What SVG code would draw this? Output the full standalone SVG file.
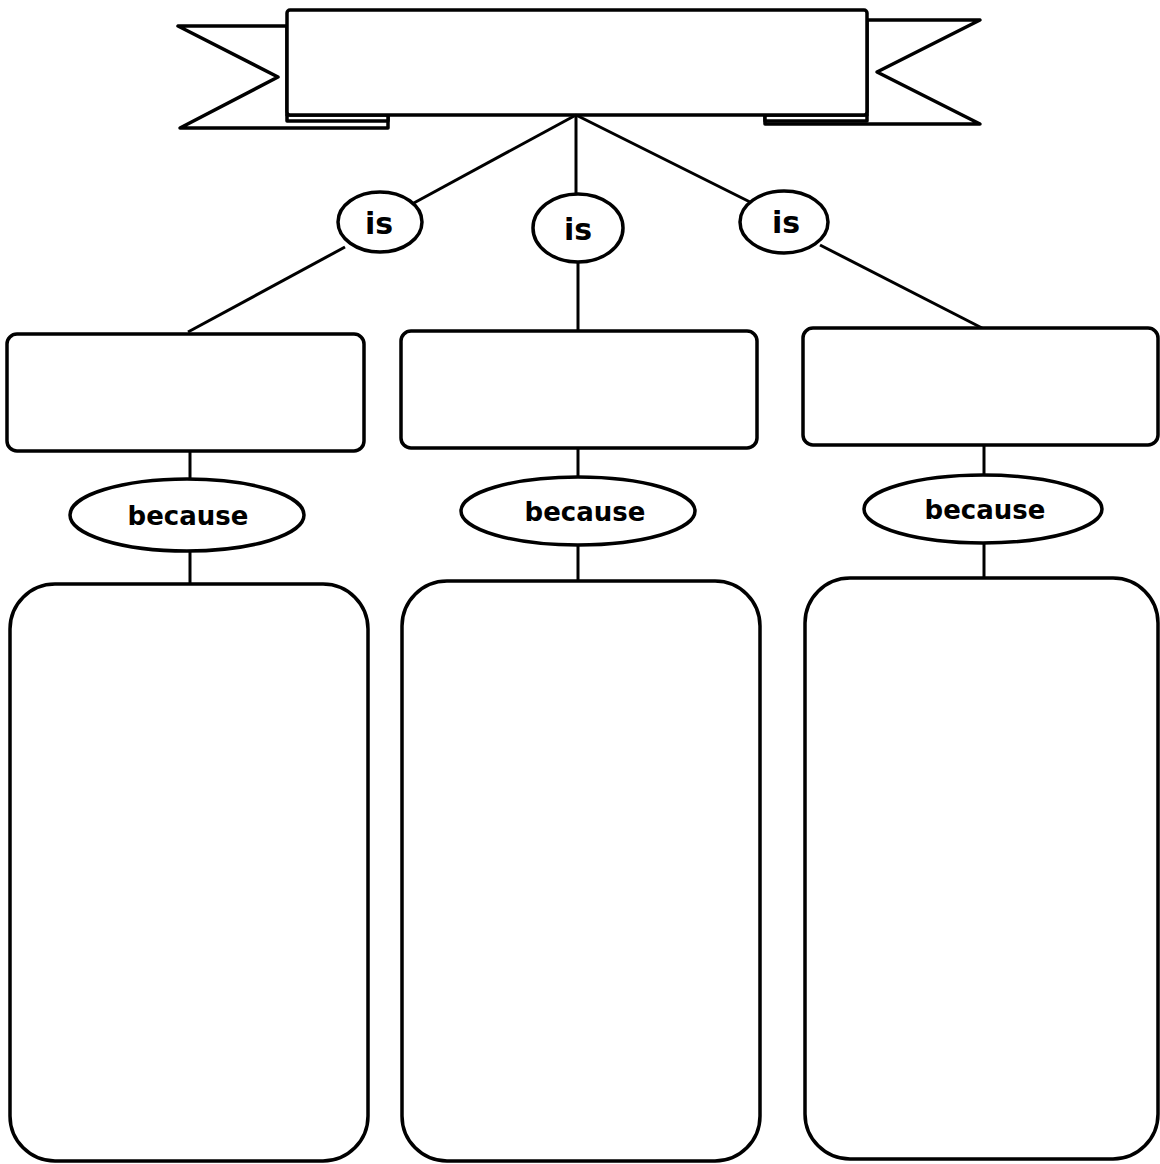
<svg xmlns="http://www.w3.org/2000/svg" width="1160" height="1164" viewBox="0 0 1160 1164">
<style>
.s{fill:#fff;stroke:#000;stroke-width:3.5;stroke-linejoin:round}
.c{fill:none;stroke:#000;stroke-width:3}
.t{font-family:"DejaVu Sans",sans-serif;font-weight:bold;fill:#000;text-anchor:middle}
</style>
<rect width="1160" height="1164" fill="#fff"/>
<g id="banner">
<polygon class="s" points="178,26 287,26 287,115 388,115 388,128 180,128 278,77"/>
<polygon class="s" points="980,20 867,20 867,115 765,115 765,124 980,124 877,72"/>
<rect class="s" x="287" y="115" width="101" height="6"/>
<rect class="s" x="765" y="115" width="102" height="6"/>
<rect class="s" x="287" y="10" width="580" height="105" rx="3"/>
</g>
<g id="connectors">
<line class="c" x1="576" y1="115" x2="412" y2="204"/>
<line class="c" x1="345" y1="247" x2="188" y2="332"/>
<line class="c" x1="576" y1="115" x2="576" y2="195"/>
<line class="c" x1="578" y1="262" x2="578" y2="330"/>
<line class="c" x1="576" y1="115" x2="750" y2="202"/>
<line class="c" x1="820" y1="245" x2="982" y2="328"/>
<line class="c" x1="190" y1="451" x2="190" y2="480"/>
<line class="c" x1="190" y1="550" x2="190" y2="584"/>
<line class="c" x1="578" y1="448" x2="578" y2="478"/>
<line class="c" x1="578" y1="545" x2="578" y2="581"/>
<line class="c" x1="984" y1="445" x2="984" y2="476"/>
<line class="c" x1="984" y1="543" x2="984" y2="578"/>
</g>
<g id="is1"><ellipse class="s" cx="380" cy="222" rx="42" ry="30"/><text class="t" x="379" y="234" font-size="30">is</text></g>
<g id="is2"><ellipse class="s" cx="578" cy="228" rx="45" ry="34"/><text class="t" x="578" y="240" font-size="30">is</text></g>
<g id="is3"><ellipse class="s" cx="784" cy="222" rx="44" ry="31"/><text class="t" x="786" y="233" font-size="30">is</text></g>
<g id="box1"><rect class="s" x="7" y="334" width="357" height="117" rx="10"/></g>
<g id="box2"><rect class="s" x="401" y="331" width="356" height="117" rx="10"/></g>
<g id="box3"><rect class="s" x="803" y="328" width="355" height="117" rx="10"/></g>
<g id="because1"><ellipse class="s" cx="187" cy="515" rx="117" ry="36"/><text class="t" x="188" y="525" font-size="26">because</text></g>
<g id="because2"><ellipse class="s" cx="578" cy="511" rx="117" ry="34"/><text class="t" x="585" y="521" font-size="26">because</text></g>
<g id="because3"><ellipse class="s" cx="983" cy="509" rx="119" ry="34"/><text class="t" x="985" y="519" font-size="26">because</text></g>
<g id="reason1"><rect class="s" x="10" y="584" width="358" height="577" rx="45"/></g>
<g id="reason2"><rect class="s" x="402" y="581" width="358" height="580" rx="45"/></g>
<g id="reason3"><rect class="s" x="805" y="578" width="353" height="581" rx="45"/></g>
</svg>
